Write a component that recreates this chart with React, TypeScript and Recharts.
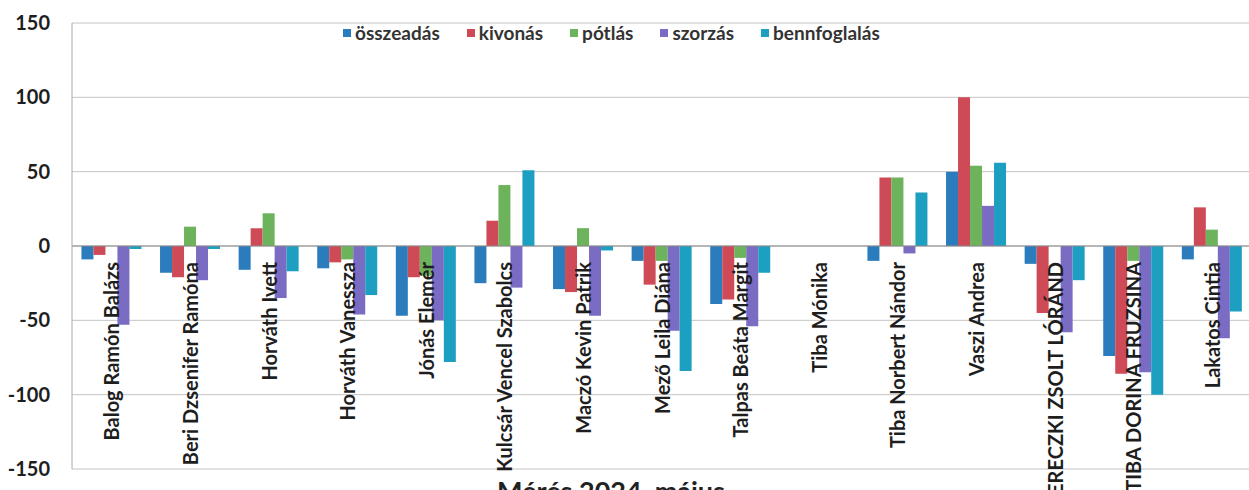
import React from 'react';
import {
  BarChart, Bar, XAxis, YAxis, CartesianGrid, ReferenceLine, Legend,
} from 'recharts';

const CATEGORIES = [
  'Balog Ramón Balázs', 'Beri Dzsenifer Ramóna', 'Horváth Ivett', 'Horváth Vanessza',
  'Jónás Elemér', 'Kulcsár Vencel Szabolcs', 'Maczó Kevin Patrik', 'Mező Leila Diána',
  'Talpas Beáta Margit', 'Tiba Mónika', 'Tiba Norbert Nándor', 'Vaszi Andrea',
  'BERECZKI ZSOLT LÓRÁND', 'TIBA DORINA FRUZSINA', 'Lakatos Cintia',
];
const OSSZEADAS = [-9, -18, -16, -15, -47, -25, -29, -10, -39, 0, -10, 50, -12, -74, -9];
const KIVONAS = [-6, -21, 12, -11, -21, 17, -31, -26, -36, 0, 46, 100, -45, -86, 26];
const POTLAS = [0, 13, 22, -9, -20, 41, 12, -10, -8, 0, 46, 54, 0, -10, 11];
const SZORZAS = [-53, -23, -35, -46, -50, -28, -47, -57, -54, 0, -5, 27, -58, -85, -62];
const BENNFOGLALAS = [-2, -2, -17, -33, -78, 51, -3, -84, -18, 0, 36, 56, -23, -100, -44];
const Y_TICKS = [-150, -100, -50, 0, 50, 100, 150];
const TITLE = 'Mérés 2024. május';

const SERIES = [
  { key: 'osszeadas', name: 'összeadás', color: '#2a7cbd', values: OSSZEADAS },
  { key: 'kivonas', name: 'kivonás', color: '#cf4a57', values: KIVONAS },
  { key: 'potlas', name: 'pótlás', color: '#6db35c', values: POTLAS },
  { key: 'szorzas', name: 'szorzás', color: '#7a6cc2', values: SZORZAS },
  { key: 'bennfoglalas', name: 'bennfoglalás', color: '#1c9fc0', values: BENNFOGLALAS },
];

const data = CATEGORIES.map((name, i) => {
  const row: any = { name };
  SERIES.forEach(s => { row[s.key] = s.values[i]; });
  return row;
});

const FONT = 'Lato, "Liberation Sans", Arial, sans-serif';

// category names sit just under the zero line, reading upwards
const CategoryTick = ({ x, payload }: any) => (
  <text
    x={x}
    y={262}
    transform={`rotate(-90, ${x}, 262)`}
    textAnchor="end"
    dominantBaseline="central"
    fontFamily={FONT}
    fontWeight={700}
    fontSize={20}
    fill="#1e1e1e"
  >
    {payload.value}
  </text>
);

const LegendContent = () => (
  <div style={{ display: 'flex', alignItems: 'center', fontFamily: FONT, fontWeight: 700, fontSize: 19, color: '#333' }}>
    {SERIES.map(s => (
      <div key={s.key} style={{ display: 'flex', alignItems: 'center', marginRight: 27 }}>
        <span style={{ width: 8, height: 8, background: s.color, marginRight: 4, display: 'inline-block' }} />
        <span>{s.name}</span>
      </div>
    ))}
  </div>
);

export default function App() {
  return (
    <div style={{ position: 'fixed', left: 0, top: 0, width: 1249, height: 490, overflow: 'hidden', background: '#fff' }}>
      <BarChart
        width={1260}
        height={490}
        data={data}
        margin={{ top: 23, right: 9, left: 0, bottom: 0 }}
        barCategoryGap="12%"
        barGap={0}
      >
        <CartesianGrid vertical={false} stroke="#c4c4c4" />
        <XAxis
          dataKey="name"
          interval={0}
          height={21}
          tickLine={false}
          axisLine={false}
          tick={<CategoryTick />}
        />
        <YAxis
          domain={[-150, 150]}
          ticks={Y_TICKS}
          width={72}
          tickSize={0}
          tickMargin={22}
          axisLine={{ stroke: '#a8a8a8' }}
          tick={{ fontFamily: FONT, fontWeight: 700, fontSize: 20, fill: '#1e1e1e' }}
        />
        <ReferenceLine y={0} stroke="#8a8a8a" />
        <Legend
          layout="horizontal"
          verticalAlign="middle"
          align="center"
          wrapperStyle={{ top: 21, left: 343, width: 620, height: 22 }}
          content={<LegendContent />}
        />
        {SERIES.map(s => (
          <Bar key={s.key} dataKey={s.key} name={s.name} fill={s.color} isAnimationActive={false} />
        ))}
      </BarChart>
      <div style={{ position: 'absolute', left: 497, top: 477, fontFamily: FONT, fontWeight: 700, fontSize: 27, lineHeight: '27px', color: '#222' }}>
        {TITLE}
      </div>
    </div>
  );
}
